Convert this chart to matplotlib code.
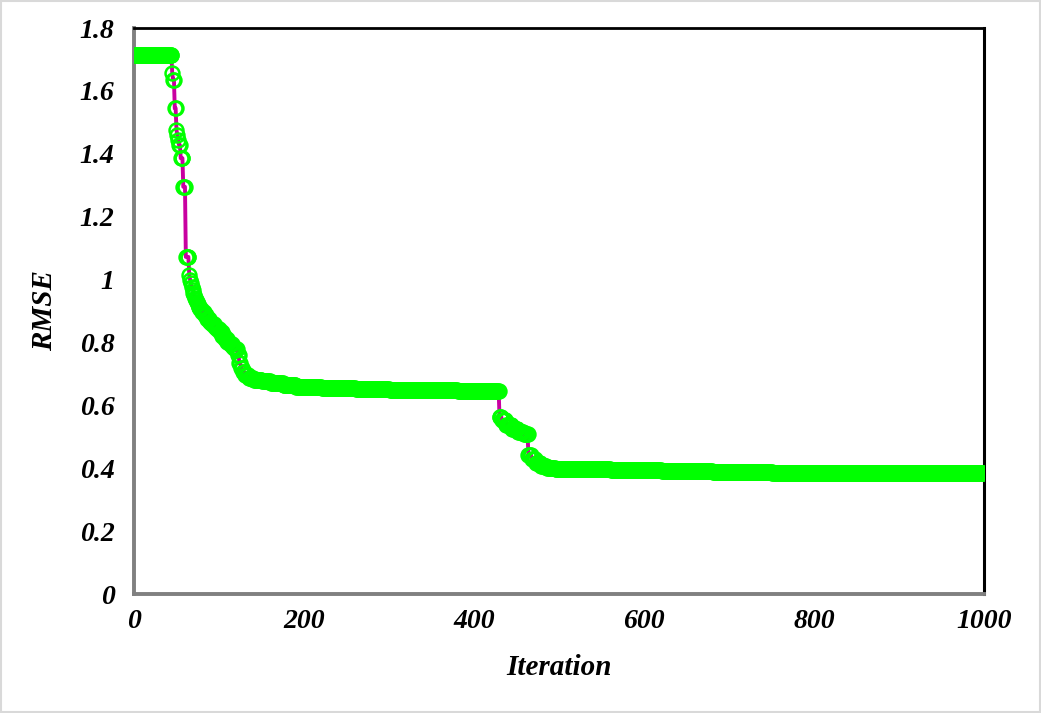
import numpy as np
import matplotlib
matplotlib.use("Agg")
import matplotlib.pyplot as plt
from matplotlib.patches import Rectangle

# Best-so-far RMSE per iteration, stored as (value, number of iterations it holds)
rmse_levels = [1.714, 1.656, 1.636, 1.545, 1.476, 1.460, 1.444, 1.428, 1.386, 1.295,
               1.072, 1.015, 1.000, 0.988, 0.977, 0.968, 0.958, 0.950, 0.942, 0.935,
               0.928, 0.921, 0.914, 0.906, 0.898, 0.888, 0.876, 0.866, 0.858, 0.850,
               0.842, 0.832, 0.822, 0.812, 0.803, 0.795, 0.787, 0.778, 0.760, 0.735,
               0.718, 0.705, 0.695, 0.688, 0.682, 0.676, 0.670, 0.664, 0.659, 0.655,
               0.652, 0.650, 0.648, 0.645, 0.564, 0.552, 0.538, 0.525, 0.515, 0.508,
               0.442, 0.430, 0.418, 0.408, 0.402, 0.399, 0.396, 0.393, 0.390, 0.387,
               0.385, 0.384]
level_runs = [45, 1, 2, 2, 1, 1, 1, 2, 3, 3,
              4, 1, 1, 1, 1, 1, 1, 1, 1, 1,
              1, 1, 2, 2, 3, 3, 3, 3, 3, 3,
              3, 3, 3, 3, 3, 3, 3, 3, 2, 2,
              2, 3, 4, 6, 10, 10, 15, 15, 30, 40,
              40, 40, 40, 49, 3, 5, 7, 7, 7, 5,
              4, 5, 6, 7, 10, 25, 40, 60, 60, 70,
              100, 149]

rmse = np.repeat(rmse_levels, level_runs)
iteration = np.arange(len(rmse))

x_ticks = [0, 200, 400, 600, 800, 1000]
y_ticks = [0, 0.2, 0.4, 0.6, 0.8, 1.0, 1.2, 1.4, 1.6, 1.8]
y_tick_labels = ["0", "0.2", "0.4", "0.6", "0.8", "1", "1.2", "1.4", "1.6", "1.8"]

plt.rcParams['font.family'] = ['Liberation Serif', 'DejaVu Serif']

fig = plt.figure(figsize=(10.41, 7.13), dpi=100)
ax = fig.add_axes([0.1287, 0.1669, 0.9453 - 0.1287, 0.9607 - 0.1669])

ax.plot(iteration, rmse, color='#C800A0', linewidth=2.8,
        marker='o', markersize=10.0, markerfacecolor='none',
        markeredgecolor='#00FF00', markeredgewidth=1.8, zorder=3)

ax.set_xlim(0, 1000)
ax.set_ylim(0, 1.8)
ax.set_xticks(x_ticks)
ax.set_xticklabels([str(v) for v in x_ticks])
ax.set_yticks(y_ticks)
ax.set_yticklabels(y_tick_labels)
ax.tick_params(axis='both', length=0, labelsize=20)
ax.tick_params(axis='x', pad=11)
ax.tick_params(axis='y', pad=14)
for lab in ax.get_xticklabels() + ax.get_yticklabels():
    lab.set_fontweight('bold')
    lab.set_fontstyle('italic')

ax.set_xlabel('Iteration', fontsize=21, fontweight='bold', fontstyle='italic', labelpad=14)
ax.set_ylabel('RMSE', fontsize=21, fontweight='bold', fontstyle='italic', labelpad=16)

ax.spines['left'].set_color('#808080')
ax.spines['bottom'].set_color('#808080')
ax.spines['left'].set_linewidth(2.8)
ax.spines['bottom'].set_linewidth(2.8)
ax.spines['top'].set_color('black')
ax.spines['right'].set_color('black')
ax.spines['top'].set_linewidth(2)
ax.spines['right'].set_linewidth(2.2)

fig.patches.append(Rectangle((0.001, 0.001), 0.998, 0.998, transform=fig.transFigure,
                             fill=False, edgecolor='#D9D9D9', linewidth=1.5))

fig.savefig('out.png', dpi=100)
